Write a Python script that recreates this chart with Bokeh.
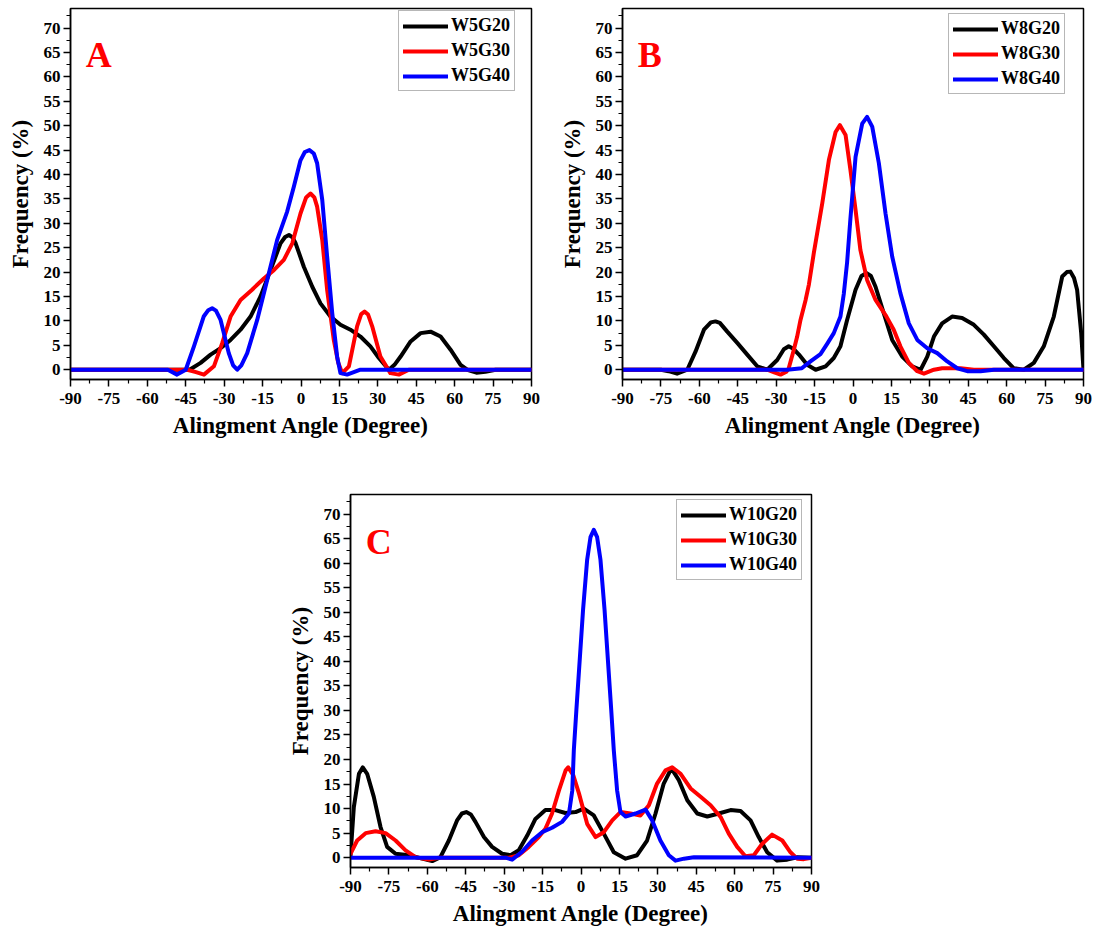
from bokeh.plotting import figure
from bokeh.models import Range1d, FixedTicker, Legend, LegendItem, Label
from bokeh.layouts import column, row
from bokeh.embed import file_html
from bokeh.resources import INLINE

# ---------------- data: alignment angle (degree) vs frequency (%) ----------------
# Panel A
ANG_W5G20 = [-90, -45, -43.2, -39.2, -35.3, -31.4, -27.5, -23.6, -19.7, -15.8, -11.9, -8.0, -6.2, -4.7,
             -3.3, -2.1, 1.1, 4.4, 7.6, 11.5, 15.4, 19.3, 23.2, 27.1, 30.4, 34.3, 36.5, 38.9, 42.8,
             46.7, 50.6, 54.5, 58.4, 62.3, 64.9, 68.5, 72.0, 76.0, 90]
FRQ_W5G20 = [0, 0, 0.1, 1.4, 3.1, 4.4, 6.1, 8.2, 10.9, 15.0, 20.4, 25.9, 27.2, 27.6,
             27.1, 25.9, 21.1, 17.0, 13.6, 10.9, 9.2, 8.2, 6.8, 4.8, 2.4, 0.0, 1.0, 2.7, 5.8,
             7.5, 7.8, 6.8, 4.1, 1.0, 0.0, -0.6, -0.4, 0.0, 0]

ANG_W5G30 = [-90, -44.4, -41.0, -37.9, -34.0, -30.8, -27.5, -23.6, -19.1, -14.5, -10.6, -6.7, -3.4,
             -0.2, 2.0, 3.7, 5.2, 6.3, 8.3, 10.2, 12.8, 14.5, 16.1, 18.7, 21.9, 23.5, 24.8, 26.2,
             27.8, 31.0, 34.9, 38.2, 42.1, 90]
FRQ_W5G30 = [0, 0, -0.5, -1.0, 0.7, 5.4, 10.9, 14.3, 16.4, 18.7, 20.4, 22.5, 25.9,
             32.0, 35.3, 36.1, 35.3, 33.4, 26.6, 16.4, 6.1, 1.5, -0.7, 0.7, 8.9, 11.4, 11.9, 11.3,
             8.9, 2.7, -0.7, -1.0, 0, 0]

ANG_W5G40 = [-90, -52, -48.4, -45.0, -41.8, -38.0, -36.2, -34.7, -33.2, -31.4, -28.2, -26.5, -24.9,
             -23.3, -21.0, -17.1, -13.2, -9.3, -5.4, -2.8, -0.2, 1.5, 3.3, 5.0, 6.3, 8.3, 10.2, 12.2,
             14.1, 15.4, 18.0, 23.2, 90]
FRQ_W5G40 = [0, 0, -1.0, 0.0, 4.8, 10.9, 12.2, 12.6, 12.1, 10.2, 3.4, 0.9, 0.0,
             0.9, 3.4, 10.2, 18.4, 26.6, 32.4, 37.5, 42.9, 44.6, 45.0, 44.3, 42.3, 34.8, 23.2, 11.6,
             2.7, -0.7, -1.0, 0, 0]

# Panel B
ANG_W8G20 = [-90, -75, -72, -68.7, -64.7, -61.5, -58.2, -55.5, -53.7, -52.0, -49.1, -45.2, -41.3,
             -37.4, -33.5, -29.6, -27.0, -25.1, -23.3, -21.1, -17.9, -14.6, -10.7, -7.5, -4.9, -2.3,
             1.0, 3.3, 5.3, 7.0, 8.8, 12.0, 15.3, 19.2, 23.1, 26.4, 29.0, 31.6, 34.8, 38.7, 42.6,
             47.2, 51.1, 55.0, 58.9, 62.8, 66.7, 70.6, 74.5, 78.4, 81.7, 83.5, 84.9, 86.3, 87.5,
             89.1, 90]
FRQ_W8G20 = [0, 0, -0.3, -0.8, 0.0, 3.7, 8.2, 9.7, 9.9, 9.6, 7.8, 5.5, 3.1,
             0.7, 0.0, 2.0, 4.2, 4.8, 4.3, 3.1, 1.0, 0.0, 0.7, 2.4, 4.8, 10.2,
             16.4, 19.2, 19.8, 19.2, 17.0, 11.6, 6.1, 2.7, 0.7, 0.0, 2.7, 6.8, 9.5, 10.9, 10.6,
             9.2, 7.2, 4.8, 2.4, 0.3, 0.0, 1.4, 4.8, 10.9, 19.1, 20.0, 20.1, 18.8, 16.4,
             7.5, 0]

ANG_W8G30 = [-90, -33.5, -30.5, -28.3, -26.0, -25.1, -23.1, -21.8, -20.5, -18.5, -17.2, -15.3, -12.0,
             -9.4, -6.8, -5.1, -2.9, -1.0, 1.0, 2.9, 5.5, 8.8, 12.7, 15.9, 18.5, 21.8, 25.1, 27.7,
             31.6, 34.8, 42.0, 47.2, 90]
FRQ_W8G30 = [0, 0, -0.6, -1.0, -0.4, 0.3, 4.1, 6.8, 10.2, 14.3, 17.5, 23.9, 34.1,
             43.0, 48.7, 50.1, 48.1, 40.9, 32.7, 24.5, 18.4, 14.3, 11.2, 8.2, 4.8, 1.4, -0.3, -0.8,
             0.0, 0.3, 0.3, 0, 0]

ANG_W8G40 = [-90, -25.7, -20.0, -16.6, -12.7, -10.1, -7.5, -4.9, -3.6, -2.3, -1.0, 1.0, 3.6, 5.5,
             7.5, 10.1, 12.7, 15.3, 18.5, 21.8, 25.1, 29.0, 32.9, 36.8, 40.7, 44.6, 49.8, 55.0, 90]
FRQ_W8G40 = [0, 0, 0.3, 1.7, 3.2, 5.3, 7.5, 10.9, 15.5, 22.0, 31.0, 43.6, 50.4, 51.8,
             49.8, 42.3, 32.0, 23.2, 15.7, 9.5, 6.1, 4.4, 3.4, 1.7, 0.3, -0.3, -0.3, 0, 0]

# Panel C
ANG_W10G20 = [-90, -88.7, -86.7, -85.2, -83.5, -80.9, -78.3, -75.7, -72.4, -67.2, -62.0, -58.1, -54.9,
              -51.6, -48.4, -46.5, -44.8, -43.0, -41.2, -37.9, -34.7, -30.8, -27.5, -24.3, -21.0,
              -17.8, -13.9, -10.0, -6.1, -2.1, 1.1, 5.0, 8.9, 12.8, 17.4, 21.9, 25.8, 29.1, 32.3,
              35.3, 38.2, 41.5, 45.4, 49.3, 53.8, 58.4, 62.3, 66.2, 69.4, 72.7, 76.6, 80.5, 84.4, 90]
FRQ_W10G20 = [0.3, 10.3, 17.1, 18.4, 17.1, 12.4, 6.3, 2.2, 0.8, 0.5, -0.2, -0.7, 0.1,
              3.5, 7.6, 9.0, 9.3, 8.8, 7.3, 4.2, 2.2, 0.8, 0.5, 1.5, 4.5,
              7.9, 9.7, 9.7, 9.1, 9.3, 10.0, 8.6, 4.9, 1.1, -0.2, 0.5, 3.5, 9.0, 15.1,
              18.2, 15.8, 11.7, 9.0, 8.4, 9.0, 9.7, 9.5, 7.6, 4.2, 1.1, -0.6, -0.4, 0.1, 0]

ANG_W10G30 = [-90, -87.4, -84.1, -80.2, -76.3, -72.4, -68.5, -64.6, -59.4, -55.5, -28.0, -24.3, -20.4,
              -16.5, -13.9, -11.3, -8.6, -6.0, -5.0, -3.0, -0.8, 2.4, 5.7, 8.9, 12.2, 15.4, 19.3,
              23.2, 26.5, 29.7, 33.0, 35.6, 38.9, 42.8, 46.7, 50.6, 54.5, 57.7, 61.0, 64.2, 67.5,
              70.7, 74.6, 78.6, 81.8, 84.4, 87.0, 90]
FRQ_W10G30 = [0.8, 3.5, 5.0, 5.4, 5.0, 3.5, 1.5, 0.1, -0.4, 0.0, 0.0, 0.5, 2.2,
              4.2, 5.9, 9.0, 13.7, 17.8, 18.4, 16.8, 13.1, 6.9, 4.2, 5.2, 7.6, 9.3, 9.0,
              8.6, 10.7, 15.1, 17.8, 18.4, 17.1, 14.1, 12.4, 10.7, 8.3, 4.9, 2.2, 0.3, 0.5,
              2.8, 4.7, 3.5, 1.1, -0.2, -0.3, 0]

ANG_W10G40 = [-90, -29.5, -26.9, -23.0, -19.1, -15.2, -11.3, -7.4, -4.7, -3.4, -2.8, -1.8, -0.5, 0.8,
              2.4, 3.7, 5.0, 6.3, 7.6, 9.2, 10.5, 11.8, 12.8, 14.1, 15.4, 17.4, 21.3, 25.2, 27.8,
              31.0, 34.3, 36.9, 40.2, 44.1, 90]
FRQ_W10G40 = [0, 0, -0.4, 1.2, 3.5, 5.2, 6.1, 7.3, 9.0, 13.7, 21.9, 30.1, 40.3, 50.5,
              60.7, 65.3, 66.8, 65.3, 60.7, 50.5, 40.3, 30.1, 21.9, 13.7, 9.3, 8.4, 9.0, 9.8, 7.6,
              3.5, 0.5, -0.6, -0.2, 0.1, 0]

# axis ticks
X_TICKS = [-90, -75, -60, -45, -30, -15, 0, 15, 30, 45, 60, 75, 90]
Y_TICKS = [0, 5, 10, 15, 20, 25, 30, 35, 40, 45, 50, 55, 60, 65, 70]

SERIES_COLORS = ["#000000", "#ff0000", "#0000ff"]
FONT = "Liberation Serif"


def make_panel(letter, series, left, right, top, bottom, fh, legend_xy):
    p = figure(frame_width=461, frame_height=fh,
               x_range=Range1d(-90, 90), y_range=Range1d(-2, 74),
               min_border_left=left, min_border_right=right,
               min_border_top=top, min_border_bottom=bottom,
               output_backend="svg", toolbar_location=None,
               background_fill_color="white", border_fill_color="white")
    p.grid.visible = False
    p.outline_line_color = "black"
    p.outline_line_width = 1.5

    p.xaxis.ticker = FixedTicker(ticks=X_TICKS,
                                 minor_ticks=[t + 7.5 for t in X_TICKS[:-1]])
    p.yaxis.ticker = FixedTicker(ticks=Y_TICKS,
                                 minor_ticks=[t + 2.5 for t in Y_TICKS])
    # plain hyphen for negative tick labels
    p.xaxis.major_label_overrides = {t: str(t) for t in X_TICKS}
    p.xaxis.axis_label = "Alingment Angle (Degree)"
    p.yaxis.axis_label = "Frequency (%)"
    for ax in (p.xaxis[0], p.yaxis[0]):
        ax.axis_line_width = 1.5
        ax.axis_line_color = "black"
        ax.major_tick_line_width = 1.5
        ax.minor_tick_line_width = 1.2
        ax.major_tick_in = 0
        ax.major_tick_out = 7
        ax.minor_tick_in = 0
        ax.minor_tick_out = 4
        ax.major_label_text_font = FONT
        ax.major_label_text_font_style = "bold"
        ax.major_label_text_font_size = "17px"
        ax.major_label_text_color = "black"
        ax.axis_label_text_font = FONT
        ax.axis_label_text_font_style = "bold"
        ax.axis_label_text_font_size = "23px"
        ax.axis_label_text_color = "black"
    p.xaxis.major_label_standoff = 6
    p.xaxis.axis_label_standoff = 6
    p.yaxis.major_label_standoff = 3
    p.yaxis.axis_label_standoff = 8

    items = []
    for (name, xs, ys), color in zip(series, SERIES_COLORS):
        r = p.line(xs, ys, line_color=color, line_width=4,
                   line_join="round", line_cap="round")
        items.append(LegendItem(label=name, renderers=[r]))

    legend = Legend(items=items, location=legend_xy,
                    label_text_font=FONT, label_text_font_style="bold",
                    label_text_font_size="18px", label_text_color="black",
                    glyph_width=45, glyph_height=20, label_height=20,
                    label_standoff=3, spacing=4, padding=4, margin=0,
                    border_line_color="#707070", border_line_width=1,
                    background_fill_color="white", background_fill_alpha=1)
    p.add_layout(legend)

    p.add_layout(Label(x=-84, y=64.4, text=letter, text_font=FONT,
                       text_font_style="bold", text_font_size="36px",
                       text_color="#ff0000", text_align="left",
                       text_baseline="alphabetic"))
    return p


pA = make_panel("A", [("W5G20", ANG_W5G20, FRQ_W5G20),
                      ("W5G30", ANG_W5G30, FRQ_W5G30),
                      ("W5G40", ANG_W5G40, FRQ_W5G40)],
                left=70, right=20, top=8, bottom=71, fh=371, legend_xy=(328, 288))
pB = make_panel("B", [("W8G20", ANG_W8G20, FRQ_W8G20),
                      ("W8G30", ANG_W8G30, FRQ_W8G30),
                      ("W8G40", ANG_W8G40, FRQ_W8G40)],
                left=71, right=11, top=8, bottom=71, fh=371, legend_xy=(326, 285))
pC = make_panel("C", [("W10G20", ANG_W10G20, FRQ_W10G20),
                      ("W10G30", ANG_W10G30, FRQ_W10G30),
                      ("W10G40", ANG_W10G40, FRQ_W10G40)],
                left=350, right=20, top=44, bottom=61, fh=373, legend_xy=(326, 287))

layout = column(row(pA, pB), pC)
open("out.html", "w").write(file_html(layout, INLINE))
